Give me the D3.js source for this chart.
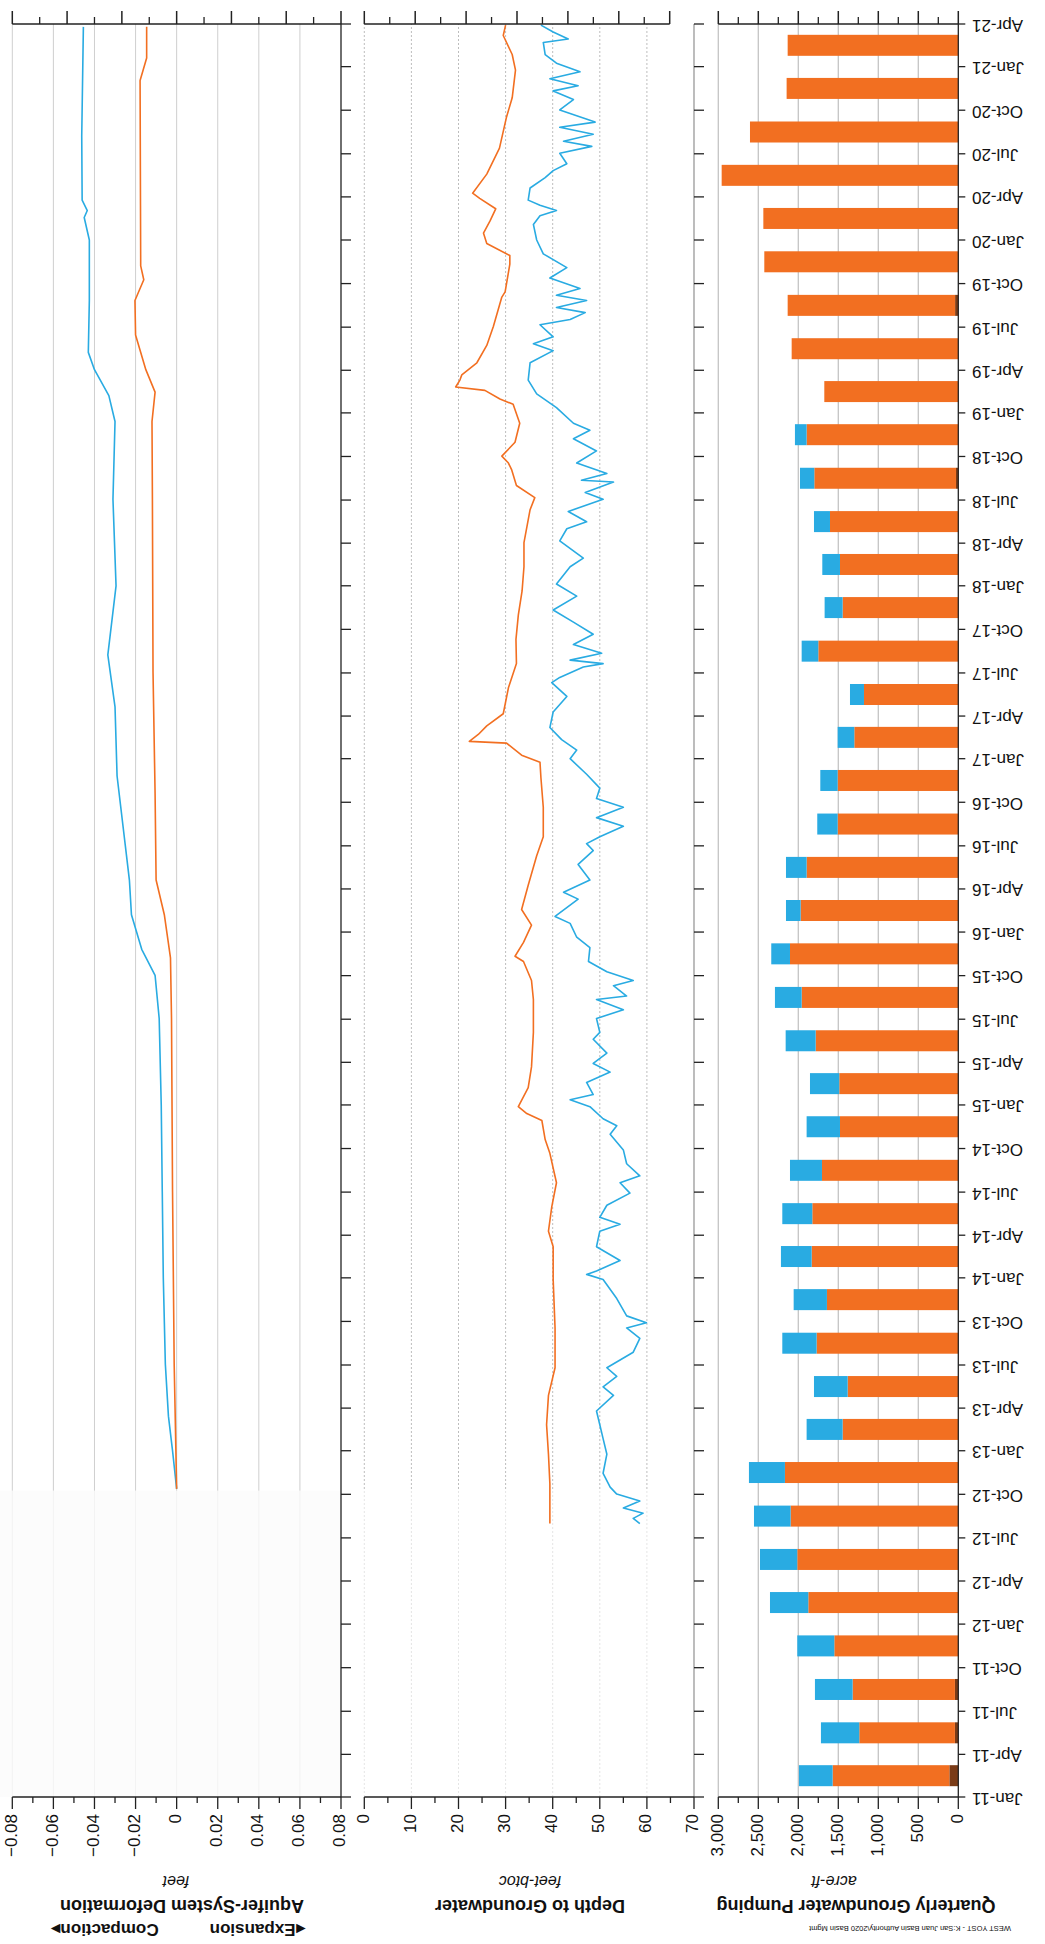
<!DOCTYPE html>
<html>
<head>
<meta charset="utf-8">
<script src="https://cdn.jsdelivr.net/npm/d3@7"></script>
<style>
  body { margin: 0; background: #fff; }
  text { font-family: "Liberation Sans", Arial, sans-serif; fill: #111; }
</style>
</head>
<body>
<svg id="chart" width="1045" height="1944"></svg>
<script>
// quarterly pumping, acre-ft (Q1 2011 .. Q1 2021)
const pumpBrown  = [112, 42, 42, 0, 0, 0, 0, 0, 0, 0, 0, 0, 0, 0, 0, 0, 0, 0, 0, 0, 0, 0, 0, 0, 0, 0, 0, 0, 0, 0, 29, 0, 0, 0, 40, 0, 0, 0, 0, 0, 0];
const pumpOrange = [1459, 1196, 1279, 1550, 1875, 2013, 2096, 2167, 1446, 1383, 1771, 1642, 1833, 1825, 1704, 1479, 1488, 1783, 1958, 2104,
                    1971, 1896, 1508, 1508, 1300, 1179, 1750, 1446, 1479, 1604, 1771, 1896, 1675, 2083, 2093, 2425, 2437, 2958, 2604, 2146, 2133];
const pumpBlue   = [421, 479, 471, 463, 479, 466, 458, 450, 450, 421, 429, 416, 384, 375, 400, 417, 366, 375, 334, 234,
                    183, 258, 255, 217, 208, 175, 208, 225, 221, 200, 179, 146, 0, 0, 0, 0, 0, 0, 0, 0, 0];

// depth to groundwater, feet-btoc  [decimal year, depth]
const depthOrange = [
  [2021.24,30.0],[2021.18,29.5],[2021.07,31.4],[2020.98,32.1],[2020.82,31.4],[2020.71,30.2],[2020.53,28.7],[2020.38,26.0],
  [2020.27,23.0],[2020.24,24.5],[2020.18,27.9],[2020.11,26.7],[2020.04,25.3],[2019.98,26.0],[2019.91,30.9],[2019.86,30.9],
  [2019.70,29.9],[2019.67,29.2],[2019.50,27.4],[2019.39,26.0],[2019.29,23.9],[2019.22,20.7],[2019.19,20.3],[2019.15,19.4],
  [2019.13,25.6],[2019.08,28.8],[2019.05,31.6],[2018.94,33.0],[2018.83,32.0],[2018.75,29.2],[2018.71,30.6],[2018.67,31.3],
  [2018.58,32.3],[2018.51,36.2],[2018.44,35.2],[2018.25,33.9],[2018.11,33.9],[2017.97,33.5],[2017.83,32.7],[2017.69,32.2],
  [2017.55,32.3],[2017.41,30.6],[2017.26,29.5],[2017.19,26.0],[2017.14,24.2],[2017.10,22.3],[2017.09,30.2],[2017.02,33.4],
  [2016.98,37.3],[2016.89,37.5],[2016.72,38.0],[2016.55,38.0],[2016.44,36.6],[2016.27,34.8],[2016.13,33.4],[2016.04,35.5],
  [2015.94,33.8],[2015.86,32.0],[2015.83,33.8],[2015.72,35.5],[2015.61,35.9],[2015.42,35.9],[2015.22,35.5],[2015.10,34.8],
  [2014.99,32.7],[2014.95,34.5],[2014.91,37.7],[2014.80,38.4],[2014.72,39.4],[2014.55,40.8],[2014.41,39.8],[2014.27,39.1],
  [2014.18,40.1],[2013.99,40.1],[2013.71,40.5],[2013.48,40.5],[2013.32,39.1],[2013.15,38.7],[2012.98,39.1],[2012.81,39.4],
  [2012.58,39.4]
];
const depthBlue = [
  [2021.24,37.5],[2021.20,40.1],[2021.16,43.3],[2021.14,38.0],[2021.07,38.4],[2021.02,40.8],[2020.97,45.8],[2020.93,39.4],
  [2020.89,45.4],[2020.86,40.1],[2020.81,44.4],[2020.75,41.5],[2020.68,49.0],[2020.65,41.5],[2020.61,48.6],[2020.57,42.3],
  [2020.54,48.3],[2020.50,41.5],[2020.44,43.0],[2020.40,40.1],[2020.36,38.4],[2020.30,35.2],[2020.23,34.8],[2020.20,37.3],
  [2020.17,40.8],[2020.14,37.3],[2020.09,35.9],[2020.00,36.6],[2019.92,38.0],[2019.84,43.0],[2019.78,39.4],[2019.72,45.8],
  [2019.68,40.8],[2019.65,47.2],[2019.61,40.8],[2019.58,46.9],[2019.54,43.7],[2019.51,37.3],[2019.44,40.1],[2019.40,35.9],
  [2019.36,40.1],[2019.29,35.2],[2019.19,34.8],[2019.11,36.6],[2019.03,40.8],[2018.94,44.4],[2018.90,47.9],[2018.85,44.4],
  [2018.78,49.3],[2018.71,45.1],[2018.65,51.5],[2018.61,46.1],[2018.60,52.9],[2018.54,46.9],[2018.50,50.7],[2018.43,43.3],
  [2018.37,47.2],[2018.33,43.0],[2018.26,41.5],[2018.16,46.5],[2018.11,43.7],[2018.01,40.8],[2017.94,45.1],[2017.86,40.1],
  [2017.79,44.4],[2017.72,48.6],[2017.66,44.4],[2017.61,50.4],[2017.57,43.7],[2017.55,50.7],[2017.53,46.5],[2017.47,41.5],
  [2017.44,39.8],[2017.36,43.0],[2017.27,40.1],[2017.18,39.4],[2017.11,41.9],[2017.05,45.1],[2017.00,43.7],[2016.91,47.2],
  [2016.83,50.0],[2016.77,49.3],[2016.72,55.0],[2016.66,49.3],[2016.61,55.0],[2016.55,50.0],[2016.51,47.2],[2016.47,48.6],
  [2016.39,45.4],[2016.30,47.9],[2016.23,42.3],[2016.19,45.4],[2016.09,40.5],[2016.05,43.7],[2015.97,45.1],[2015.91,47.9],
  [2015.83,47.6],[2015.77,51.5],[2015.72,57.1],[2015.69,52.9],[2015.63,55.7],[2015.61,49.3],[2015.55,55.0],[2015.50,49.3],
  [2015.42,50.0],[2015.38,48.6],[2015.30,51.5],[2015.24,48.6],[2015.19,52.2],[2015.13,47.2],[2015.06,48.6],[2015.03,43.7],
  [2014.99,47.9],[2014.92,50.7],[2014.88,53.6],[2014.83,52.2],[2014.74,55.0],[2014.66,55.7],[2014.59,58.5],[2014.55,54.3],
  [2014.49,56.4],[2014.42,51.5],[2014.35,50.0],[2014.31,54.3],[2014.27,50.0],[2014.18,49.3],[2014.10,54.3],[2014.04,49.3],
  [2014.02,47.2],[2013.99,50.7],[2013.88,53.6],[2013.78,55.7],[2013.74,59.9],[2013.71,55.7],[2013.65,58.5],[2013.57,57.1],
  [2013.48,51.5],[2013.43,53.6],[2013.37,50.7],[2013.32,52.9],[2013.23,49.3],[2013.15,50.0],[2013.07,50.7],[2012.98,51.5],
  [2012.87,50.7],[2012.79,52.2],[2012.75,53.6],[2012.71,58.5],[2012.67,55.0],[2012.64,59.2],[2012.61,57.1],[2012.58,58.5]
];

// aquifer-system deformation, feet  [decimal year, value]
const defBlue = [
  [2021.23,-0.0454],[2020.6,-0.0462],[2020.23,-0.0460],[2020.17,-0.0435],[2020.13,-0.0450],[2020.0,-0.0425],[2019.65,-0.0425],
  [2019.35,-0.0430],[2019.25,-0.0400],[2019.1,-0.0330],[2018.95,-0.0300],[2018.5,-0.0310],[2018.0,-0.0295],[2017.6,-0.0335],
  [2017.3,-0.0300],[2016.9,-0.0290],[2016.5,-0.0250],[2016.3,-0.0230],[2016.1,-0.0220],[2015.9,-0.0170],[2015.75,-0.0105],
  [2015.5,-0.0085],[2015.0,-0.0075],[2014.5,-0.0070],[2014.0,-0.0065],[2013.5,-0.0055],[2013.2,-0.0040],[2013.0,-0.0020],
  [2012.78,0.0]
];
const defOrange = [
  [2021.23,-0.0146],[2021.05,-0.0146],[2020.92,-0.0178],[2020.2,-0.0176],[2019.85,-0.0175],[2019.77,-0.0160],[2019.65,-0.0203],
  [2019.45,-0.0200],[2019.25,-0.0150],[2019.12,-0.0105],[2018.95,-0.0120],[2018.5,-0.0118],[2017.5,-0.0115],[2016.8,-0.0105],
  [2016.3,-0.0100],[2016.1,-0.0060],[2015.85,-0.0030],[2015.5,-0.0025],[2014.5,-0.0020],[2013.5,-0.0012],[2012.78,0.0]
];

const defTicks = [-0.08, -0.06, -0.04, -0.02, 0, 0.02, 0.04, 0.06, 0.08];
const depthTicks = [0, 10, 20, 30, 40, 50, 60, 70];
const pumpTicks = [0, 500, 1000, 1500, 2000, 2500, 3000];

const ORANGE = "#f26f21", BLUE = "#29abe2", BROWN = "#7a3b17";

// decimal year -> Date
function dy(t) {
  const y = Math.floor(t);
  const s = new Date(y, 0, 1), e = new Date(y + 1, 0, 1);
  return new Date(+s + (t - y) * (e - s));
}

const svg = d3.select("#chart");
// chart is built in landscape coordinates (1944 x 1045) and turned a quarter turn
const g = svg.append("g").attr("transform", "translate(0,1944) rotate(-90)");

const x = d3.scaleTime().domain([new Date(2011, 0, 1), new Date(2021, 3, 1)]).range([147, 1920]);
const yDef = d3.scaleLinear().domain([-0.08, 0.08]).range([12.3, 341]);
const yDepth = d3.scaleLinear().domain([0, 70]).range([364.3, 694]);
const yPump = d3.scaleLinear().domain([0, 3000]).range([958.3, 718.3]);

const x0 = x.range()[0], x1 = x.range()[1];
const qTicks = d3.timeMonth.range(new Date(2011, 0, 1), new Date(2021, 3, 2), 3);
const quarters = qTicks.slice(0, -1);

// gridlines
g.append("g").selectAll("line").data(defTicks.slice(0, -1)).join("line")
  .attr("x1", x0).attr("x2", x1).attr("y1", d => yDef(d)).attr("y2", d => yDef(d))
  .attr("stroke", "#cfcfcf").attr("stroke-width", 1);
g.append("g").selectAll("line").data(depthTicks.slice(0, -1)).join("line")
  .attr("x1", x0).attr("x2", x1).attr("y1", d => yDepth(d)).attr("y2", d => yDepth(d))
  .attr("stroke", "#bdbdbd").attr("stroke-width", 1).attr("stroke-dasharray", "2,2");
g.append("g").selectAll("line").data(pumpTicks.slice(1)).join("line")
  .attr("x1", x0).attr("x2", x1).attr("y1", d => yPump(d)).attr("y2", d => yPump(d))
  .attr("stroke", "#c4c4c4").attr("stroke-width", 1.3);

// faded area before records start
const fadeEnd = x(dy(2012.77));
g.append("rect").attr("x", x0).attr("y", 0).attr("width", fadeEnd - x0).attr("height", 340)
  .attr("fill", "#fbfbfb").attr("fill-opacity", 0.8);
g.append("rect").attr("x", x0).attr("y", 342).attr("width", fadeEnd - x0).attr("height", 352)
  .attr("fill", "#fff").attr("fill-opacity", 0.6);

// pumping bars
const rows = quarters.map((q, i) => ({ q, brown: pumpBrown[i], orange: pumpOrange[i], blue: pumpBlue[i] }));
const stack = d3.stack().keys(["brown", "orange", "blue"])(rows);
const colors = { brown: BROWN, orange: ORANGE, blue: BLUE };
const barW = 21;
g.append("g").selectAll("g").data(stack).join("g")
  .attr("fill", d => colors[d.key])
  .selectAll("rect").data(d => d).join("rect")
  .attr("x", d => (x(d.data.q) + x(d3.timeMonth.offset(d.data.q, 3))) / 2 - barW / 2)
  .attr("width", barW)
  .attr("y", d => yPump(d[1]))
  .attr("height", d => yPump(d[0]) - yPump(d[1]));

// lines
function drawLine(data, yScale, color, w) {
  const pts = data.slice().sort((a, b) => a[0] - b[0]);
  g.append("path").datum(pts)
    .attr("fill", "none").attr("stroke", color).attr("stroke-width", w).attr("stroke-linejoin", "round")
    .attr("d", d3.line().x(d => x(dy(d[0]))).y(d => yScale(d[1])));
}
drawLine(depthBlue, yDepth, BLUE, 1.6);
drawLine(depthOrange, yDepth, ORANGE, 1.6);
drawLine(defBlue, yDef, BLUE, 1.6);
drawLine(defOrange, yDef, ORANGE, 1.6);

// date axes under each panel
function dateAxis(yPos, color, len) {
  g.append("line").attr("x1", x0).attr("x2", x1).attr("y1", yPos).attr("y2", yPos)
    .attr("stroke", color).attr("stroke-width", 1.3);
  g.append("g").selectAll("line").data(qTicks).join("line")
    .attr("x1", d => x(d)).attr("x2", d => x(d)).attr("y1", yPos).attr("y2", yPos + len)
    .attr("stroke", "#222").attr("stroke-width", 1.3);
}
dateAxis(yDef(0.08), "#222", 10);
dateAxis(yDepth(70), "#999", 10);
dateAxis(yPump(0), "#222", 7);

const fmt = d3.timeFormat("%b-%y");
g.append("g").selectAll("text").data(qTicks).join("text")
  .attr("transform", d => `translate(${x(d)},972) rotate(-90)`)
  .attr("text-anchor", "end").attr("dominant-baseline", "middle")
  .attr("font-size", 17).text(d => fmt(d));

// left value axes
function leftAxis(scale, ticks, fmtFn) {
  const [a, b] = scale.range();
  g.append("line").attr("x1", x0).attr("x2", x0).attr("y1", a).attr("y2", b)
    .attr("stroke", "#222").attr("stroke-width", 1.3);
  const minor = ticks.slice(1).map((t, i) => (t + ticks[i]) / 2);
  g.append("g").selectAll("line").data(ticks).join("line")
    .attr("x1", x0 - 12).attr("x2", x0).attr("y1", d => scale(d)).attr("y2", d => scale(d))
    .attr("stroke", "#222").attr("stroke-width", 1.3);
  g.append("g").selectAll("line").data(minor).join("line")
    .attr("x1", x0 - 6).attr("x2", x0).attr("y1", d => scale(d)).attr("y2", d => scale(d))
    .attr("stroke", "#222").attr("stroke-width", 1.3);
  g.append("g").selectAll("text").data(ticks).join("text")
    .attr("x", x0 - 17).attr("y", d => scale(d))
    .attr("text-anchor", "end").attr("dominant-baseline", "middle")
    .attr("font-size", 17).text(fmtFn);
}
leftAxis(yDef, defTicks, d => d === 0 ? "0" : d3.format(".2f")(d));
leftAxis(yDepth, depthTicks, d => d);
leftAxis(yPump, pumpTicks, d3.format(","));

// right axes (unlabelled)
function rightAxis(a, b, n) {
  g.append("line").attr("x1", x1).attr("x2", x1).attr("y1", a).attr("y2", b)
    .attr("stroke", "#222").attr("stroke-width", 1.3);
  const s = d3.scaleLinear().domain([0, n]).range([a, b]);
  const major = d3.range(0, n + 0.01, 1), minor = d3.range(0.5, n, 1);
  g.append("g").selectAll("line").data(major).join("line")
    .attr("x1", x1).attr("x2", x1 + 13).attr("y1", d => s(d)).attr("y2", d => s(d))
    .attr("stroke", "#222").attr("stroke-width", 1.5);
  g.append("g").selectAll("line").data(minor).join("line")
    .attr("x1", x1).attr("x2", x1 + 7).attr("y1", d => s(d)).attr("y2", d => s(d))
    .attr("stroke", "#222").attr("stroke-width", 1.3);
}
rightAxis(yDef(-0.08), yDef(0.08), 6);
rightAxis(yDepth(0), yDepth(0) + 50.9 * 6, 6);
rightAxis(yPump(3000), yPump(0), 6);

// axis titles
function vText(ox, oy, str, size, weight, style) {
  g.append("text").attr("transform", `translate(${ox},${oy}) rotate(-90)`)
    .attr("text-anchor", "middle").attr("dominant-baseline", "middle")
    .attr("font-size", size).attr("font-weight", weight || "normal")
    .attr("font-style", style || "normal").text(str);
}
vText(64, 176, "feet", 16, "normal", "italic");
vText(64, 530, "feet-btoc", 16, "normal", "italic");
vText(64, 834, "acre-ft", 16, "normal", "italic");
vText(39, 182, "Aquifer-System Deformation", 18, "bold");
vText(39, 530, "Depth to Groundwater", 18, "bold");
vText(39, 856, "Quarterly Groundwater Pumping", 18, "bold");
vText(16, 178, "\u25C2Expansion\u2003\u2003\u2003Compaction\u25B8", 17, "bold");
vText(16, 910, "WEST YOST - K:San Juan Basin Authority\\2020 Basin Mgmt", 7.5);
</script>
</body>
</html>
